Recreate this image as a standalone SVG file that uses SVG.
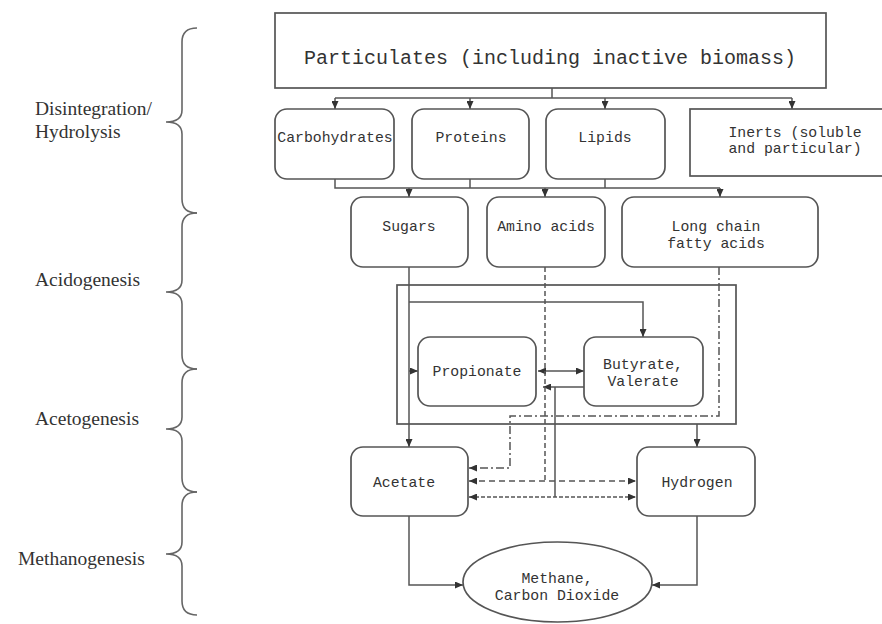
<svg xmlns="http://www.w3.org/2000/svg" width="882" height="624" viewBox="0 0 882 624">
<style>
.box{fill:#fff;stroke:#555;stroke-width:1.7}
.mono{font-family:"Liberation Mono","Courier New",monospace;font-size:14.8px;fill:#333;text-anchor:middle}
.serif{font-family:"Liberation Serif","Times New Roman",serif;font-size:19.5px;fill:#333}
.ln{fill:none;stroke:#555;stroke-width:1.5}
.dash{stroke-dasharray:6,4}
.fdash{stroke-dasharray:4,2}
.sdash{stroke-dasharray:5,3}
.dd{stroke-dasharray:8,3,2,3}
.brace{fill:none;stroke:#666;stroke-width:1.6}
</style>
<defs>
<marker id="ah" markerUnits="userSpaceOnUse" markerWidth="8" markerHeight="7" refX="8" refY="3.5" orient="auto-start-reverse">
<path d="M0,0 L8,3.5 L0,7 z" fill="#333"/>
</marker>
</defs>
<rect width="882" height="624" fill="#fff"/>

<g id="stages">
<text class="serif" x="35" y="115">Disintegration/</text>
<text class="serif" x="35" y="138">Hydrolysis</text>
<text class="serif" x="35" y="286">Acidogenesis</text>
<text class="serif" x="35" y="425">Acetogenesis</text>
<text class="serif" x="18" y="565">Methanogenesis</text>
<path class="brace" d="M197,28 Q182,28 182,42 L182,110 Q182,122 166,122 Q182,122 182,134 L182,199 Q182,213 197,213"/>
<path class="brace" d="M197,213 Q182,213 182,227 L182,280 Q182,292 166,292 Q182,292 182,304 L182,355 Q182,369 197,369"/>
<path class="brace" d="M197,369 Q182,369 182,383 L182,417 Q182,429 166,429 Q182,429 182,441 L182,478 Q182,492 197,492"/>
<path class="brace" d="M197,492 Q182,492 182,506 L182,542 Q182,554 166,554 Q182,554 182,566 L182,601 Q182,615 197,615"/>
</g>

<g id="group-box"><rect x="397" y="285" width="339" height="139" fill="none" stroke="#555" stroke-width="1.7"/></g>

<g id="connectors">
<path class="ln" d="M552,88 V98 M335,98 H792"/>
<path class="ln" d="M335,98 V109" marker-end="url(#ah)"/>
<path class="ln" d="M470,98 V109" marker-end="url(#ah)"/>
<path class="ln" d="M605,98 V109" marker-end="url(#ah)"/>
<path class="ln" d="M792,98 V109" marker-end="url(#ah)"/>
<path class="ln" d="M335,179 V188 H720 M470,179 V188 M605,179 V188"/>
<path class="ln" d="M409,188 V197" marker-end="url(#ah)"/>
<path class="ln" d="M545,188 V197" marker-end="url(#ah)"/>
<path class="ln" d="M720,188 V197" marker-end="url(#ah)"/>
<path class="ln" d="M409,267 V447" marker-end="url(#ah)"/>
<path class="ln" d="M409,302 H643 V337" marker-end="url(#ah)"/>
<path class="ln" d="M409,371 H418" marker-end="url(#ah)"/>
<path class="ln" d="M538,371 H584" marker-start="url(#ah)" marker-end="url(#ah)"/>
<path class="ln" d="M584,387 H543" marker-end="url(#ah)"/>
<path class="ln" d="M555,387 V497"/>
<path class="ln sdash" d="M545,267 V481"/>
<path class="ln dd" d="M719,267 V416 H510 V468 H469" marker-end="url(#ah)"/>
<path class="ln dash" d="M469,481 H636" marker-start="url(#ah)" marker-end="url(#ah)"/>
<path class="ln fdash" d="M469,497 H636" marker-start="url(#ah)" marker-end="url(#ah)"/>
<path class="ln" d="M697,424 V447" marker-end="url(#ah)"/>
<path class="ln" d="M409,516 V585 H463" marker-end="url(#ah)"/>
<path class="ln" d="M697,516 V585 H652" marker-end="url(#ah)"/>
</g>

<g id="particulates"><rect class="box" x="275" y="13" width="551" height="75"/><text class="mono" x="550" y="64" style="font-size:20px">Particulates (including inactive biomass)</text></g>
<g id="carbohydrates"><rect class="box" x="275" y="109" width="119" height="70" rx="12"/><text class="mono" x="335" y="142">Carbohydrates</text></g>
<g id="proteins"><rect class="box" x="412" y="109" width="117" height="70" rx="12"/><text class="mono" x="471" y="142">Proteins</text></g>
<g id="lipids"><rect class="box" x="546" y="109" width="119" height="70" rx="12"/><text class="mono" x="605" y="142">Lipids</text></g>
<g id="inerts"><rect class="box" x="690" y="109" width="200" height="67"/><text class="mono" x="795" y="137">Inerts (soluble</text><text class="mono" x="795" y="153">and particular)</text></g>
<g id="sugars"><rect class="box" x="351" y="197" width="117" height="70" rx="12"/><text class="mono" x="409" y="231">Sugars</text></g>
<g id="amino-acids"><rect class="box" x="487" y="197" width="118" height="70" rx="12"/><text class="mono" x="546" y="231">Amino acids</text></g>
<g id="lcfa"><rect class="box" x="622" y="197" width="196" height="70" rx="12"/><text class="mono" x="716" y="231">Long chain</text><text class="mono" x="716" y="248">fatty acids</text></g>
<g id="propionate"><rect class="box" x="418" y="337" width="118" height="69" rx="12"/><text class="mono" x="477" y="376">Propionate</text></g>
<g id="butyrate"><rect class="box" x="584" y="337" width="119" height="69" rx="12"/><text class="mono" x="643" y="369">Butyrate,</text><text class="mono" x="643" y="386">Valerate</text></g>
<g id="acetate"><rect class="box" x="351" y="447" width="117" height="69" rx="12"/><text class="mono" x="404" y="487">Acetate</text></g>
<g id="hydrogen"><rect class="box" x="637" y="447" width="118" height="69" rx="12"/><text class="mono" x="697" y="487">Hydrogen</text></g>
<g id="methane"><ellipse class="box" cx="557.5" cy="582" rx="94.5" ry="40"/><text class="mono" x="557" y="583">Methane,</text><text class="mono" x="557" y="600">Carbon Dioxide</text></g>
</svg>
